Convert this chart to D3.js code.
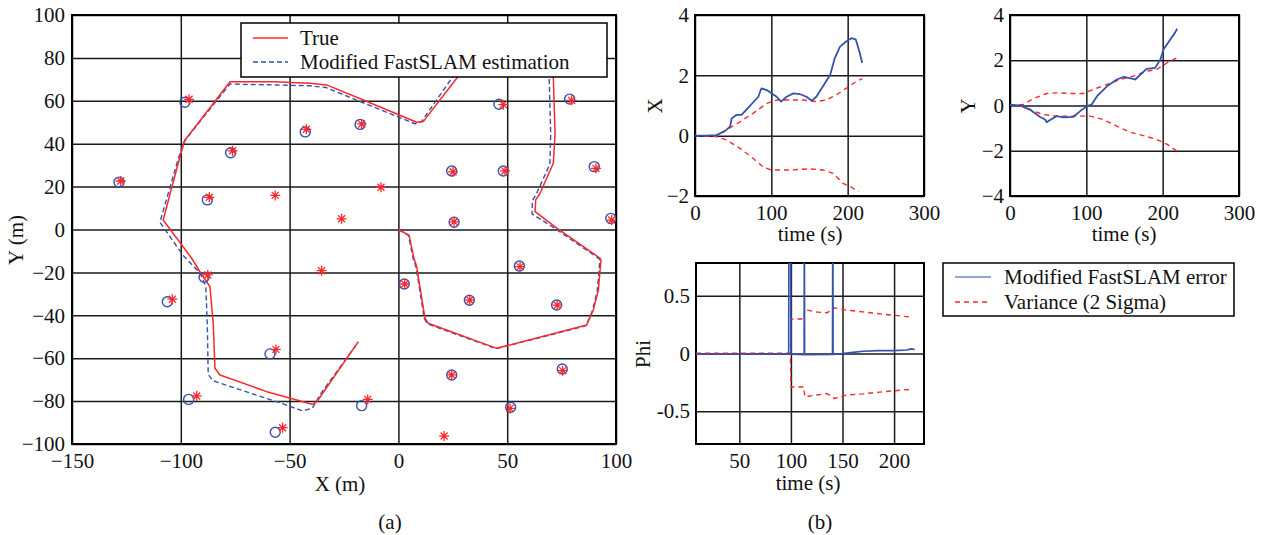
<!DOCTYPE html>
<html>
<head>
<meta charset="utf-8">
<script src="https://cdn.jsdelivr.net/npm/d3@7"></script>
<style>
  body { margin: 0; background: #fff; }
  svg text { font-family: "Liberation Serif", "Times New Roman", serif; font-size: 21px; fill: #111; }
</style>
</head>
<body>
<svg id="fig"></svg>
<script>
// ---- (a) trajectory + landmarks ----
var truePath = [[0,0],[4.9,-2.6],[7.1,-13.3],[8.4,-17.3],[12.2,-41.3],[13.7,-43.7],[45.2,-55.4],
  [86.5,-44.5],[89.6,-37.5],[91.9,-28.2],[92.7,-18.9],[93.1,-14.2],[92.7,-13.4],[72.8,0.6],[62.8,8.3],
  [63.1,13.8],[65.1,16.9],[71.2,30.9],[72.0,44.8],[71.2,70.5],[71.5,80],[34,80],[26.8,70.5],[11.4,50.3],
  [8.4,50.0],[-16.1,60.4],[-33.0,67.4],[-40.6,68.2],[-57.5,68.9],[-77.4,68.9],[-92.7,48.7],[-98.1,41.7],
  [-100.4,33.9],[-108.1,4.4],[-95.0,-13.4],[-91.2,-19.7],[-86.6,-26.7],[-85.1,-43.7],[-84.3,-64.7],
  [-82.0,-67.8],[-60.5,-75.6],[-39.6,-81.5],[-37.5,-80.3],[-18.4,-52.3]];
var estPath = [[0,0],[4.6,-2.8],[6.8,-13.5],[8.1,-17.6],[11.9,-41.5],[13.4,-44],[45,-55.6],[86.3,-44.8],
  [89.2,-37.8],[91.4,-28.5],[92.2,-19],[92.6,-14.4],[92.2,-13.6],[72.4,0.2],[61.4,7.3],[61.6,13.5],
  [63.4,16.6],[69.6,30.5],[70,44.5],[69.3,70.5],[69.5,80],[32,80],[24.5,70.5],[10.6,50.3],[7.6,49.3],
  [-16.5,59.2],[-33.3,66.2],[-41,67.0],[-57.8,67.4],[-77.4,67.8],[-93.2,47.8],[-98.6,40.8],[-101.2,32.9],
  [-109.6,3.4],[-99,-12],[-91,-20.5],[-88.5,-26.7],[-87.8,-45],[-87.4,-67.6],[-85.2,-70.5],[-76,-73.6],
  [-53,-81.3],[-44.2,-84.5],[-39.6,-83.4],[-35.6,-76.4],[-19.5,-54]];
var lmTrue = [[-127.6,22.6],[-96.2,60.7],[-76.2,36.7],[-86.9,15.0],[-56.6,15.9],[-42.3,46.7],[-16.9,49.2],
  [-8.0,19.7],[-26.1,5.0],[25.1,26.9],[49.0,27.3],[48.2,58.2],[79.6,60.2],[90.8,28.5],[98.0,4.4],[25.6,3.6],
  [-35.3,-19.2],[2.9,-25.4],[32.8,-32.9],[55.9,-17.3],[73.0,-35.3],[75.5,-65.8],[24.5,-67.8],[51.3,-83.4],
  [21.0,-96.3],[-14.1,-79.2],[-103.9,-32.5],[-87.6,-21.2],[-56.3,-55.9],[-92.7,-77.6],[-53.2,-92.4]];
var lmEst = [[-128.4,22.1],[-98.1,59.3],[-77.1,35.8],[-87.8,13.8],[-42.8,45.5],[-17.6,49.0],[24.5,27.3],
  [48.2,27.3],[46.2,58.4],[78.7,60.8],[90.0,29.3],[97.6,5.2],[25.6,3.4],[2.7,-25.4],[32.6,-33.0],[55.6,-17.0],
  [72.7,-35.2],[75.3,-65.0],[24.5,-67.8],[51.6,-82.9],[-16.9,-82.1],[-106.2,-33.7],[-89.3,-22.3],[-59.0,-58.0],
  [-96.4,-79.2],[-56.6,-94.5]];
var mainXTicks = [-150,-100,-50,0,50,100];
var mainYTicks = [-100,-80,-60,-40,-20,0,20,40,60,80,100];

// ---- (b) error plots ----
var errX = [[0,0],[15,0],[28,0.02],[39,0.15],[46,0.3],[48,0.57],[54.5,0.69],[61,0.69],[83,1.29],[87,1.57],
  [94,1.51],[107,1.29],[113,1.13],[120,1.29],[129,1.40],[137,1.38],[146,1.29],[153,1.16],[159,1.29],
  [166,1.57],[177,2.01],[183,2.56],[190,2.95],[198,3.12],[205,3.23],[210.6,3.19],[216,2.73],[219,2.42]];
var varXUp = [[0,0],[28,0],[41,0.19],[59,0.46],[76,0.74],[94,1.07],[107,1.18],[124,1.18],[142,1.18],
  [159,1.13],[172,1.18],[185,1.35],[198,1.57],[211,1.79],[219,1.89]];
var varXLo = [[0,0],[28,-0.03],[41,-0.14],[59,-0.42],[76,-0.75],[89,-1.03],[100,-1.14],[124,-1.14],
  [150,-1.1],[168,-1.14],[181,-1.25],[194,-1.58],[205,-1.71],[214,-1.86]];
var errY = [[0,0.04],[13,0],[26,-0.18],[39,-0.5],[46,-0.62],[48,-0.74],[52,-0.65],[61,-0.47],[70,-0.52],
  [83,-0.5],[92,-0.25],[100.6,-0.03],[107,0.04],[114,0.41],[127,0.85],[140,1.15],[149,1.27],[155,1.22],
  [164,1.15],[171,1.37],[179,1.62],[190,1.66],[197,2.03],[201,2.47],[210,2.92],[216,3.21],[219,3.39]];
var varYUp = [[0,0.04],[17,0.04],[33,0.34],[48,0.53],[61,0.56],[79,0.53],[96,0.53],[109,0.71],[127,0.93],
  [144,1.15],[162,1.30],[179,1.52],[192,1.59],[206,1.89],[219,2.11]];
var varYLo = [[0,0.04],[17,-0.03],[31,-0.25],[44,-0.40],[61,-0.47],[87,-0.47],[105,-0.47],[122,-0.62],
  [140,-0.91],[157,-1.18],[175,-1.33],[192,-1.50],[206,-1.72],[219,-2.02]];
var errPhi = [[8,-0.005],[30,-0.006],[60,-0.006],[97.8,-0.005],[98.2,1.5],[99.6,1.5],[100,-0.005],
  [112.8,-0.01],[113,1.5],[113.3,-0.01],[140.3,-0.008],[140.6,1.5],[140.9,-0.008],[150,0.0],[160,0.01],
  [170,0.02],[185,0.025],[200,0.025],[212,0.03],[217,0.04],[220,0.035]];
var varPhiUp = [[8,0.003],[99.5,0.003],[100,0.298],[112.5,0.3],[113.5,0.38],[125,0.36],[135,0.353],
  [142,0.396],[154,0.376],[170,0.361],[189,0.341],[214.5,0.318]];
var varPhiLo = [[8,-0.003],[99.5,-0.003],[100,-0.29],[112.5,-0.29],[113.5,-0.376],[125,-0.36],[135,-0.347],
  [142,-0.39],[154,-0.36],[170,-0.35],[189,-0.332],[214.5,-0.312]];
var timeTicks = [0,100,200,300];
var phiXTicks = [50,100,150,200];

var RED = '#f8282c', BLUE = '#3552ad';

var svg = d3.select('#fig').attr('width', 1272).attr('height', 535);
var clipN = 0;

// one set of axes: grid + frame + labels, returns scales and a clipped group
function panel(xDom, yDom, xr, yr, xt, yt, yFmt, padY) {
  var x = d3.scaleLinear().domain(xDom).range(xr);
  var y = d3.scaleLinear().domain(yDom).range(yr);
  var w = xr[1] - xr[0], h = yr[0] - yr[1];
  var gx = svg.append('g').attr('transform', 'translate(0,' + yr[0] + ')')
    .call(d3.axisBottom(x).tickValues(xt).tickSize(-h).tickPadding(9));
  var gy = svg.append('g').attr('transform', 'translate(' + xr[0] + ',0)')
    .call(d3.axisLeft(y).tickValues(yt).tickSize(-w).tickPadding(padY).tickFormat(yFmt || d3.format('d')));
  [gx, gy].forEach(function(g) {
    g.select('.domain').remove();
    g.selectAll('line').attr('stroke', '#1a1a1a').attr('stroke-width', 1.5);
    g.selectAll('text').attr('fill', '#111').style('font-size', '21px')
      .attr('font-family', '"Liberation Serif", "Times New Roman", serif');
  });
  svg.append('rect').attr('x', xr[0]).attr('y', yr[1]).attr('width', w).attr('height', h)
    .attr('fill', 'none').attr('stroke', '#000').attr('stroke-width', 2);
  var id = 'clip' + (clipN++);
  svg.append('clipPath').attr('id', id).append('rect')
    .attr('x', xr[0]).attr('y', yr[1]).attr('width', w).attr('height', h);
  var g = svg.append('g').attr('clip-path', 'url(#' + id + ')');
  return { x: x, y: y, g: g };
}

function drawLine(p, data, color, dash, wdt) {
  var line = d3.line().x(function(d) { return p.x(d[0]); }).y(function(d) { return p.y(d[1]); });
  p.g.append('path').datum(data).attr('d', line)
    .attr('fill', 'none').attr('stroke', color).attr('stroke-width', wdt || 1.5)
    .attr('stroke-dasharray', dash || null).attr('stroke-linejoin', 'round');
}

function label(txt, x, y, rot, anchor) {
  svg.append('text').text(txt).attr('text-anchor', anchor || 'middle')
    .attr('transform', 'translate(' + x + ',' + y + ')' + (rot ? ' rotate(' + rot + ')' : ''));
}

// ---------- (a) ----------
var pa = panel([-150, 100], [-100, 100], [72, 616], [444, 15], mainXTicks, mainYTicks, null, 7);
drawLine(pa, estPath, BLUE, '5,3', 1.4);
drawLine(pa, truePath, RED, null, 1.5);
pa.g.selectAll('circle.lm').data(lmEst).enter().append('circle')
  .attr('cx', function(d) { return pa.x(d[0]); })
  .attr('cy', function(d) { return pa.y(d[1]); })
  .attr('r', 5).attr('fill', 'none').attr('stroke', BLUE).attr('stroke-width', 1.4);
var star = pa.g.selectAll('g.star').data(lmTrue).enter().append('g')
  .attr('transform', function(d) { return 'translate(' + pa.x(d[0]) + ',' + pa.y(d[1]) + ')'; });
star.append('path').attr('d', 'M-5,0H5M0,-5V5M-3.5,-3.5L3.5,3.5M-3.5,3.5L3.5,-3.5')
  .attr('stroke', RED).attr('stroke-width', 1.3);

// legend (a)
svg.append('rect').attr('x', 241).attr('y', 23).attr('width', 366).attr('height', 54)
  .attr('fill', '#fff').attr('stroke', '#000').attr('stroke-width', 1.5);
svg.append('line').attr('x1', 253).attr('x2', 288).attr('y1', 38).attr('y2', 38)
  .attr('stroke', RED).attr('stroke-width', 1.5);
svg.append('line').attr('x1', 253).attr('x2', 288).attr('y1', 62).attr('y2', 62)
  .attr('stroke', BLUE).attr('stroke-width', 1.5).attr('stroke-dasharray', '5,3');
label('True', 300, 45, 0, 'start');
label('Modified FastSLAM estimation', 300, 69, 0, 'start');

label('X (m)', 340, 491);
label('Y (m)', 23, 240, -90);
label('(a)', 390, 529);

// ---------- (b) ----------
var px = panel([0, 300], [-2, 4], [695, 924], [196, 15], timeTicks, [-2, 0, 2, 4], null, 6);
drawLine(px, varXUp, RED, '5,4', 1.4);
drawLine(px, varXLo, RED, '5,4', 1.4);
drawLine(px, errX, BLUE, null, 1.8);
label('time (s)', 810, 241);
label('X', 662, 106, -90);

var py = panel([0, 300], [-4, 4], [1010, 1239], [196, 15], timeTicks, [-4, -2, 0, 2, 4], null, 6);
drawLine(py, varYUp, RED, '5,4', 1.4);
drawLine(py, varYLo, RED, '5,4', 1.4);
drawLine(py, errY, BLUE, null, 1.8);
label('time (s)', 1124, 241);
label('Y', 975, 106, -90);

var pp = panel([8, 229], [-0.785, 0.785], [696, 924], [444, 263], phiXTicks, [-0.5, 0, 0.5],
  function(d) { return d === 0 ? '0' : String(d); }, 6);
drawLine(pp, varPhiUp, RED, '5,4', 1.4);
drawLine(pp, varPhiLo, RED, '5,4', 1.4);
drawLine(pp, errPhi, BLUE, null, 1.6);
label('time (s)', 808, 490);
label('Phi', 650, 354, -90);

// legend (b)
svg.append('rect').attr('x', 943).attr('y', 263).attr('width', 291).attr('height', 53)
  .attr('fill', '#fff').attr('stroke', '#000').attr('stroke-width', 1.5);
svg.append('line').attr('x1', 955).attr('x2', 991).attr('y1', 277).attr('y2', 277)
  .attr('stroke', '#7088c8').attr('stroke-width', 1.5);
svg.append('line').attr('x1', 955).attr('x2', 991).attr('y1', 302).attr('y2', 302)
  .attr('stroke', RED).attr('stroke-width', 1.4).attr('stroke-dasharray', '5,4');
label('Modified FastSLAM error', 1004, 284, 0, 'start');
label('Variance (2 Sigma)', 1004, 309, 0, 'start');

label('(b)', 820, 529);
</script>
</body>
</html>
